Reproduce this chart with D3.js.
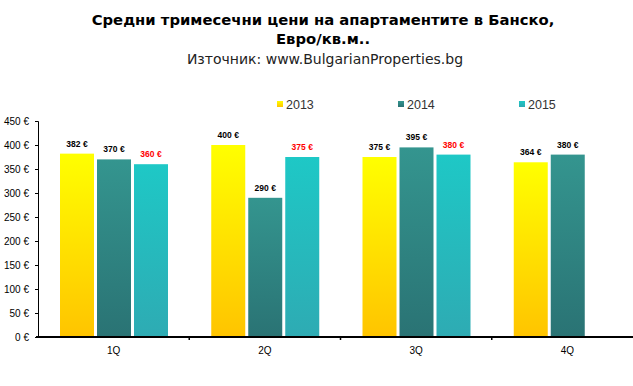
<!DOCTYPE html>
<html>
<head>
<meta charset="utf-8">
<script src="https://cdn.jsdelivr.net/npm/d3@7"></script>
<style>
    body { margin: 0; background: #fff; }
</style>
</head>
<body>
<div id="chart"></div>
<script>
var quarters = ["1Q", "2Q", "3Q", "4Q"];
var years = ["2013", "2014", "2015"];
var v2013 = [382, 400, 375, 364];
var v2014 = [370, 290, 395, 380];
var v2015 = [360, 375, 380, null];
var yTicks = [0, 50, 100, 150, 200, 250, 300, 350, 400, 450];

var width = 633, height = 386;
var svg = d3.select("#chart").append("svg")
    .attr("width", width)
    .attr("height", height);

// gradients for bars and legend
var grads = [
    {id: "g2013", top: "#ffff00", bottom: "#ffc400"},
    {id: "g2014", top: "#34958f", bottom: "#2a7374"},
    {id: "g2015", top: "#1ec8c6", bottom: "#2eabb3"}
];
var defs = svg.append("defs");
grads.forEach(function (g) {
    var lg = defs.append("linearGradient")
        .attr("id", g.id)
        .attr("x1", 0).attr("y1", 0).attr("x2", 0).attr("y2", 1);
    lg.append("stop").attr("offset", "0%").attr("stop-color", g.top);
    lg.append("stop").attr("offset", "100%").attr("stop-color", g.bottom);
});

// titles
svg.append("text")
    .attr("x", 323).attr("y", 25)
    .attr("text-anchor", "middle")
    .attr("font-family", "DejaVu Sans")
    .attr("font-weight", "bold")
    .attr("font-size", "14.8px")
    .attr("fill", "#000")
    .text("Средни тримесечни цени на апартаментите в Банско,");
svg.append("text")
    .attr("x", 323).attr("y", 44)
    .attr("text-anchor", "middle")
    .attr("font-family", "DejaVu Sans")
    .attr("font-weight", "bold")
    .attr("font-size", "14.8px")
    .attr("fill", "#000")
    .text("Евро/кв.м..");
svg.append("text")
    .attr("x", 325).attr("y", 64)
    .attr("text-anchor", "middle")
    .attr("font-family", "DejaVu Sans")
    .attr("font-size", "14px")
    .attr("fill", "#222")
    .text("Източник: www.BulgarianProperties.bg");

// scales
var x = d3.scaleBand().domain(quarters).range([38, 643]);
var xs = d3.scaleBand().domain(years).range([22, 130]).paddingInner(3 / 37);
var y = d3.scaleLinear().domain([0, 450]).range([337, 121]);

var series = [
    {year: "2013", values: v2013, fill: "url(#g2013)", label: "#000"},
    {year: "2014", values: v2014, fill: "url(#g2014)", label: "#000"},
    {year: "2015", values: v2015, fill: "url(#g2015)", label: "#ff0000"}
];

// y axis
var yAxis = svg.append("g")
    .attr("transform", "translate(38,0)")
    .call(d3.axisLeft(y).tickValues(yTicks).tickSize(3).tickPadding(6)
        .tickFormat(function (d) { return d + " €"; }));
yAxis.select(".domain").attr("stroke", "#000");
yAxis.selectAll("text")
    .attr("font-family", "Liberation Sans")
    .attr("font-size", "10px")
    .attr("fill", "#000");

// bars
series.forEach(function (s) {
    var data = quarters.map(function (q, i) { return {q: q, v: s.values[i]}; })
        .filter(function (d) { return d.v != null; });
    svg.append("g").selectAll("rect")
        .data(data)
        .enter().append("rect")
        .attr("x", function (d) { return x(d.q) + xs(s.year); })
        .attr("y", function (d) { return y(d.v); })
        .attr("width", xs.bandwidth())
        .attr("height", function (d) { return y(0) - y(d.v); })
        .attr("fill", s.fill);
    svg.append("g").selectAll("text")
        .data(data)
        .enter().append("text")
        .attr("x", function (d) { return x(d.q) + xs(s.year) + xs.bandwidth() / 2; })
        .attr("y", function (d) { return y(d.v) - 7; })
        .attr("text-anchor", "middle")
        .attr("font-family", "Liberation Sans")
        .attr("font-weight", "bold")
        .attr("font-size", "8.5px")
        .attr("fill", s.label)
        .text(function (d) { return d.v + " €"; });
});

// x axis
svg.append("line")
    .attr("x1", 36).attr("x2", 633)
    .attr("y1", y(0)).attr("y2", y(0))
    .attr("stroke", "#000")
    .attr("stroke-width", 2);
svg.append("g").selectAll("line")
    .data(quarters.slice(1))
    .enter().append("line")
    .attr("x1", function (d) { return x(d); })
    .attr("x2", function (d) { return x(d); })
    .attr("y1", y(0)).attr("y2", y(0) + 3)
    .attr("stroke", "#000")
    .attr("stroke-width", 1.5);
svg.append("g").selectAll("text")
    .data(quarters)
    .enter().append("text")
    .attr("x", function (d) { return x(d) + x.bandwidth() / 2; })
    .attr("y", 354)
    .attr("text-anchor", "middle")
    .attr("font-family", "Liberation Sans")
    .attr("font-size", "10px")
    .attr("fill", "#000")
    .text(function (d) { return d; });

// legend
var legendX = [277, 398, 519];
var legend = svg.append("g").selectAll("g")
    .data(series)
    .enter().append("g")
    .attr("transform", function (d, i) { return "translate(" + legendX[i] + ",100)"; });
legend.append("rect")
    .attr("width", 6).attr("height", 6)
    .attr("y", 1)
    .attr("fill", function (d) { return d.fill; });
legend.append("text")
    .attr("x", 9).attr("y", 8.5)
    .attr("font-family", "Liberation Sans")
    .attr("font-size", "12.5px")
    .attr("fill", "#333")
    .text(function (d) { return d.year; });
</script>
</body>
</html>
